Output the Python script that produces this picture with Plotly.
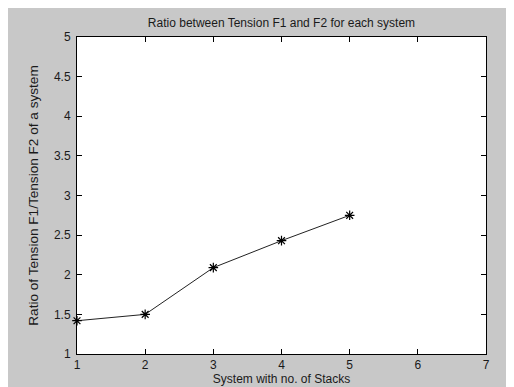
import plotly.graph_objects as go

systems = [1, 2, 3, 4, 5]
ratios = [1.42, 1.50, 2.09, 2.43, 2.75]
x_ticks = [1, 2, 3, 4, 5, 6, 7]
y_ticks = [1, 1.5, 2, 2.5, 3, 3.5, 4, 4.5, 5]
y_tick_text = ["1", "1.5", "2", "2.5", "3", "3.5", "4", "4.5", "5"]

fig = go.Figure()
fig.add_trace(go.Scatter(
    x=systems, y=ratios, mode="lines+markers",
    line=dict(color="#222222", width=1),
    marker=dict(symbol="asterisk-open", size=8, color="black",
                line=dict(color="black", width=1.2)),
    showlegend=False, cliponaxis=False,
))

font = dict(family="Liberation Sans, Arial, sans-serif", size=12, color="#1a1a1a")
ytitle_font = dict(family="Liberation Sans, Arial, sans-serif", size=13.6, color="#1a1a1a")
axis_common = dict(
    showgrid=False, zeroline=False, showline=True, linecolor="black", linewidth=1,
    mirror="ticks", ticks="inside", ticklen=5, tickcolor="black", tickwidth=1,
    tickfont=font,
)
fig.update_layout(
    width=514, height=387,
    margin=dict(l=69, r=36, t=29, b=36),
    paper_bgcolor="#c8c8c8", plot_bgcolor="white",
    font=font,
    title=dict(text="Ratio between Tension F1 and F2 for each system",
               x=(69 + 478) / 2 / 514, xanchor="center", y=1 - 15 / 387, yanchor="middle",
               font=font),
    xaxis=dict(range=[1, 7], tickvals=x_ticks,
               title=dict(text="System with no. of Stacks", font=font, standoff=2),
               **axis_common),
    yaxis=dict(range=[1, 5], tickvals=y_ticks, ticktext=y_tick_text,
               ticklabelstandoff=3,
               title=dict(text="Ratio of Tension F1/Tension F2 of a system", font=ytitle_font, standoff=12),
               **axis_common),
)
fig.write_html("out.html")
